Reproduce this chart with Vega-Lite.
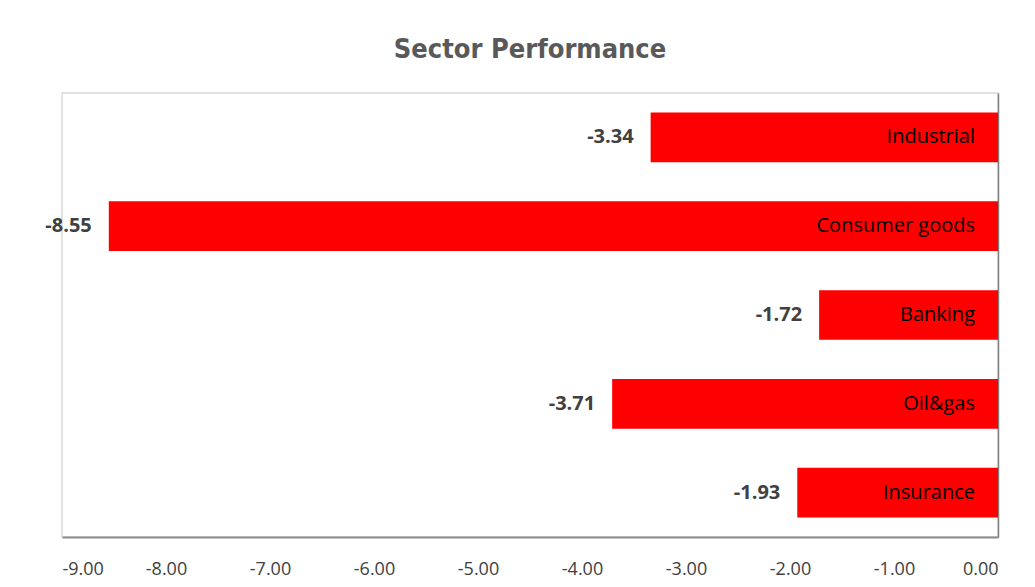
{
  "$schema": "https://vega.github.io/schema/vega-lite/v6.json",
  "width": 936,
  "height": 444,
  "autosize": {"type": "none"},
  "padding": {"left": 62, "top": 93, "right": 37, "bottom": 50},
  "background": "white",
  "title": {
    "text": "Sector Performance",
    "fontSize": 27,
    "font": "DejaVu Sans Condensed, Open Sans, sans-serif",
    "fontWeight": "bold",
    "color": "#595959",
    "anchor": "middle",
    "offset": 29
  },
  "data": {
    "values": [
      {"sector": "Industrial", "value": -3.34, "label": "-3.34"},
      {"sector": "Consumer goods", "value": -8.55, "label": "-8.55"},
      {"sector": "Banking", "value": -1.72, "label": "-1.72"},
      {"sector": "Oil&gas", "value": -3.71, "label": "-3.71"},
      {"sector": "Insurance", "value": -1.93, "label": "-1.93"}
    ]
  },
  "encoding": {
    "y": {
      "field": "sector",
      "type": "nominal",
      "sort": null,
      "scale": {"paddingInner": 0.44, "paddingOuter": 0.22},
      "axis": {
        "orient": "right",
        "labels": false,
        "ticks": false,
        "title": null,
        "domainColor": "#808080",
        "domainWidth": 1.5
      }
    },
    "x": {
      "field": "value",
      "type": "quantitative",
      "scale": {"domain": [-9, 0], "nice": false},
      "axis": {
        "values": [-9, -8, -7, -6, -5, -4, -3, -2, -1, 0],
        "labelExpr": "replace(format(datum.value, '.2f'), '\u2212', '-')",
        "grid": false,
        "ticks": false,
        "title": null,
        "labelFont": "Open Sans, sans-serif",
        "labelFontSize": 18,
        "labelColor": "#404040",
        "labelPadding": 23,
        "domainColor": "#8c8c8c",
        "domainWidth": 2
      }
    }
  },
  "layer": [
    {"mark": {"type": "bar", "color": "#FF0000"}},
    {
      "mark": {
        "type": "text",
        "align": "right",
        "baseline": "middle",
        "dx": -17,
        "font": "Open Sans, sans-serif",
        "fontWeight": "bold",
        "fontSize": 20,
        "color": "#404040"
      },
      "encoding": {"text": {"field": "label"}}
    },
    {
      "mark": {
        "type": "text",
        "align": "right",
        "baseline": "middle",
        "dx": -23,
        "font": "Open Sans, sans-serif",
        "fontSize": 20,
        "color": "#000000"
      },
      "encoding": {
        "x": {"datum": 0, "type": "quantitative"},
        "text": {"field": "sector"}
      }
    }
  ],
  "config": {
    "view": {"stroke": "#d9d9d9", "strokeWidth": 1.5}
  }
}
